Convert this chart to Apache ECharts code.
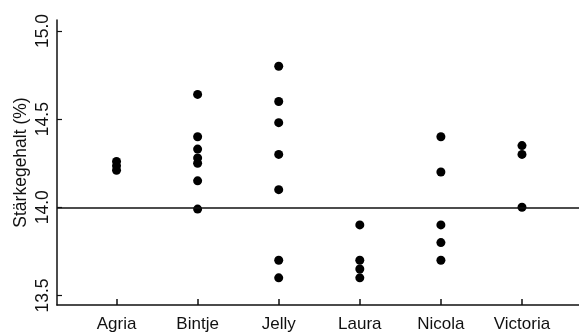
<!DOCTYPE html>
<html>
<head>
<meta charset="utf-8">
<script src="https://cdn.jsdelivr.net/npm/echarts@6/dist/echarts.min.js"></script>
<style>html,body{margin:0;padding:0;background:#fff}#c{width:579px;height:333px}</style>
</head>
<body>
<div id="c"></div>
<script>
const categories = ["Agria", "Bintje", "Jelly", "Laura", "Nicola", "Victoria"];
const agria = [14.26, 14.235, 14.21];
const bintje = [14.64, 14.40, 14.33, 14.28, 14.25, 14.15, 13.99];
const jelly = [14.80, 14.60, 14.48, 14.30, 14.10, 13.70, 13.60];
const laura = [13.90, 13.70, 13.65, 13.60];
const nicola = [14.40, 14.20, 13.90, 13.80, 13.70];
const victoria = [14.35, 14.30, 14.00];
const yTicks = [13.5, 14.0, 14.5, 15.0];
const refLine = 14.0;

const groups = [agria, bintje, jelly, laura, nicola, victoria];
const points = [];
groups.forEach((g, i) => g.forEach(v => points.push([i, v])));
const xIdx = categories.map((c, i) => i);

const font = 'Liberation Sans, Arial, sans-serif';
const chart = echarts.init(document.getElementById('c'));
chart.setOption({
  animation: false,
  backgroundColor: '#fff',
  grid: { left: 57, right: 0, top: 20, bottom: 28 },
  xAxis: {
    type: 'value', min: -0.734, max: 5.703,
    splitLine: { show: false },
    axisLine: { show: true, onZero: false, lineStyle: { color: '#111', width: 1.5 } },
    axisTick: { show: true, inside: true, length: 6, customValues: xIdx, lineStyle: { color: '#111', width: 1.5 } },
    axisLabel: {
      customValues: xIdx,
      formatter: v => categories[Math.round(v)],
      color: '#111', fontFamily: font, fontSize: 17, margin: 11
    }
  },
  yAxis: {
    type: 'value', min: 13.446, max: 15.062,
    name: 'Stärkegehalt (%)', nameLocation: 'middle', nameGap: 27, nameMoveOverlap: false,
    nameTextStyle: { color: '#111', fontFamily: font, fontSize: 17.5 },
    splitLine: { show: false },
    axisLine: { show: true, onZero: false, lineStyle: { color: '#111', width: 1.5 } },
    axisTick: { show: true, inside: true, length: 5, customValues: yTicks, lineStyle: { color: '#111', width: 1.2 } },
    axisLabel: {
      customValues: yTicks, rotate: 90,
      formatter: v => v.toFixed(1),
      color: '#111', fontFamily: font, fontSize: 17.5, margin: 5
    }
  },
  series: [{
    type: 'scatter',
    data: points,
    symbol: 'circle', symbolSize: 9,
    itemStyle: { color: '#000', opacity: 1 },
    markLine: {
      silent: true, symbol: 'none', label: { show: false },
      lineStyle: { color: '#111', width: 1.5, type: 'solid' },
      data: [{ yAxis: refLine }]
    }
  }]
});
</script>
</body>
</html>
